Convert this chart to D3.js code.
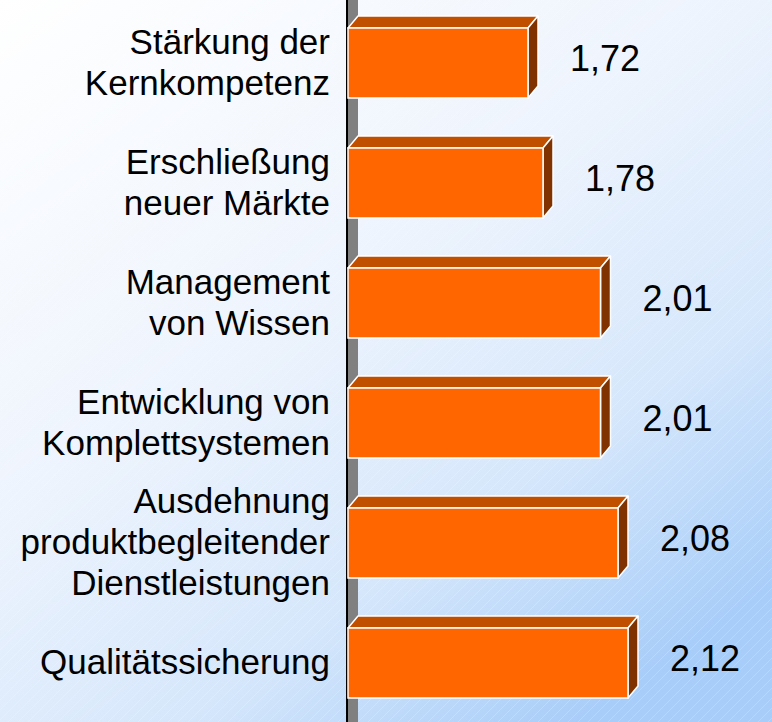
<!DOCTYPE html>
<html>
<head>
<meta charset="utf-8">
<script src="https://cdn.jsdelivr.net/npm/d3@7"></script>
<style>
  html, body { margin: 0; padding: 0; background: #fff; }
  svg { display: block; }
</style>
</head>
<body>
<div id="chart"></div>
<script>
// Horizontal 3D-style bars, D3.
var categories = [
  "Stärkung der\nKernkompetenz",
  "Erschließung\nneuer Märkte",
  "Management\nvon Wissen",
  "Entwicklung von\nKomplettsystemen",
  "Ausdehnung\nproduktbegleitender\nDienstleistungen",
  "Qualitätssicherung"
];
var values = [1.72, 1.78, 2.01, 2.01, 2.08, 2.12];

(function () {
  "use strict";

  var width = 772, height = 722;
  var depthX = 10, depthY = -12;
  var colors = {
    front: "#ff6600",
    top: "#c04f00",
    side: "#803300",
    wall: "#808080",
    text: "#000000"
  };

  var svg = d3.select("#chart").append("svg")
    .attr("width", width)
    .attr("height", height);

  var defs = svg.append("defs");
  var grad = defs.append("linearGradient")
    .attr("id", "bg")
    .attr("x1", "0").attr("y1", "0")
    .attr("x2", "0.75").attr("y2", "1");
  grad.append("stop").attr("offset", "0").attr("stop-color", "#ffffff");
  grad.append("stop").attr("offset", "0.45").attr("stop-color", "#eef4fd");
  grad.append("stop").attr("offset", "0.75").attr("stop-color", "#d6e7fb");
  grad.append("stop").attr("offset", "1").attr("stop-color", "#a8cdf8");

  var hatch = defs.append("pattern")
    .attr("id", "hatch")
    .attr("width", 10).attr("height", 10)
    .attr("patternUnits", "userSpaceOnUse");
  hatch.append("path")
    .attr("d", "M-1,11 L11,-1")
    .attr("stroke", "#ffffff")
    .attr("stroke-width", 0.6)
    .attr("stroke-opacity", 0.35);

  svg.append("rect").attr("width", width).attr("height", height).attr("fill", "url(#bg)");
  svg.append("rect").attr("width", width).attr("height", height).attr("fill", "url(#hatch)");

  var x = d3.scaleLinear().domain([1, 2.7]).range([348, 773]);
  var y = d3.scaleBand()
    .domain(categories)
    .range([3, 723])
    .paddingInner(50 / 120)
    .paddingOuter(25 / 120);

  // axis wall + line
  svg.append("rect")
    .attr("x", x(1))
    .attr("y", 0)
    .attr("width", depthX)
    .attr("height", height)
    .attr("fill", colors.wall);
  svg.append("line")
    .attr("x1", x(1) - 1).attr("x2", x(1) - 1)
    .attr("y1", 0).attr("y2", height)
    .attr("stroke", "#000")
    .attr("stroke-width", 2);

  var data = categories.map(function (c, i) { return { cat: c, value: values[i] }; });

  var bar = svg.append("g")
    .selectAll("g")
    .data(data)
    .join("g");

  bar.append("path")
    .attr("fill", colors.top)
    .attr("stroke", "#fff")
    .attr("stroke-width", 1.5)
    .attr("stroke-linejoin", "round")
    .attr("d", function (d) {
      var x0 = x(1), x1 = x(d.value), y0 = y(d.cat);
      return "M" + x0 + "," + y0 + "L" + (x0 + depthX) + "," + (y0 + depthY) +
        "L" + (x1 + depthX) + "," + (y0 + depthY) + "L" + x1 + "," + y0 + "Z";
    });

  bar.append("path")
    .attr("fill", colors.side)
    .attr("stroke", "#fff")
    .attr("stroke-width", 1.5)
    .attr("stroke-linejoin", "round")
    .attr("d", function (d) {
      var x1 = x(d.value), y0 = y(d.cat), y1 = y0 + y.bandwidth();
      return "M" + x1 + "," + y0 + "L" + (x1 + depthX) + "," + (y0 + depthY) +
        "L" + (x1 + depthX) + "," + (y1 + depthY) + "L" + x1 + "," + y1 + "Z";
    });

  bar.append("rect")
    .attr("x", x(1))
    .attr("y", function (d) { return y(d.cat); })
    .attr("width", function (d) { return x(d.value) - x(1); })
    .attr("height", y.bandwidth())
    .attr("fill", colors.front)
    .attr("stroke", "#fff")
    .attr("stroke-width", 1.5);

  var fmt = d3.formatLocale({ decimal: ",", thousands: ".", grouping: [3], currency: ["", " €"] }).format(".2f");

  bar.append("text")
    .attr("x", function (d) { return x(d.value) + 42; })
    .attr("y", function (d) { return y(d.cat) + y.bandwidth() / 2 + 8; })
    .attr("font-family", "Liberation Sans, Arial, sans-serif")
    .attr("font-size", "36px")
    .attr("fill", colors.text)
    .text(function (d) { return fmt(d.value); });

  // category labels, right aligned left of the axis
  var lineH = 41;
  bar.append("text")
    .attr("text-anchor", "end")
    .attr("font-family", "Liberation Sans, Arial, sans-serif")
    .attr("font-size", "35px")
    .attr("fill", colors.text)
    .each(function (d) {
      var lines = d.cat.split("\n");
      var cy = y(d.cat) + y.bandwidth() / 2 - 1;
      var first = cy - (lines.length - 1) * lineH / 2 + 12;
      var t = d3.select(this);
      lines.forEach(function (ln, i) {
        t.append("tspan")
          .attr("x", 330)
          .attr("y", first + i * lineH)
          .text(ln);
      });
    });
})();
</script>
</body>
</html>
